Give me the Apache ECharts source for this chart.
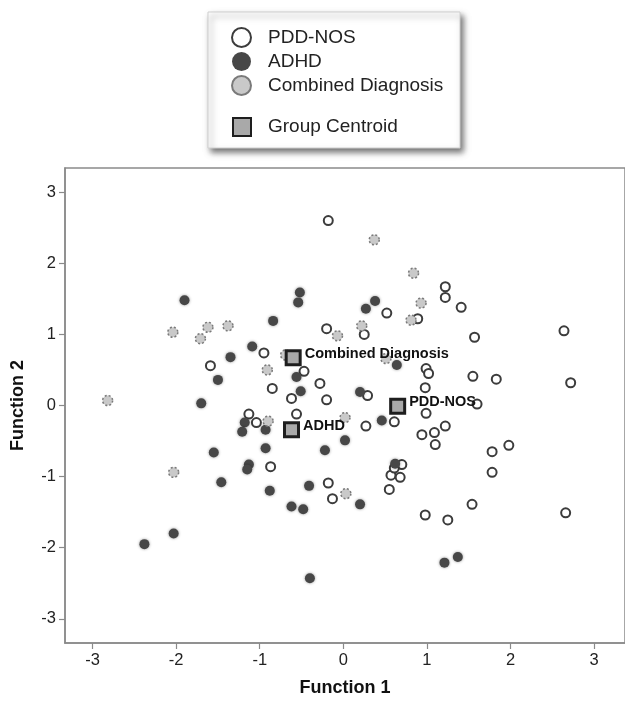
<!DOCTYPE html>
<html>
<head>
<meta charset="utf-8">
<script src="https://cdn.jsdelivr.net/npm/echarts@6/dist/echarts.min.js"></script>
<style>html,body{margin:0;padding:0;background:#fff;}#c{width:625px;height:708px;}</style>
</head>
<body>
<div id="c"></div>
<script>
var tickValues = [-3, -2, -1, 0, 1, 2, 3];
var seriesNames = ['PDD-NOS', 'ADHD', 'Combined Diagnosis', 'Group Centroid'];

var pddNos = [
  [-0.18, 2.60], [-0.20, 1.08], [-0.95, 0.74], [-1.59, 0.56], [-0.47, 0.48],
  [-0.28, 0.31], [-0.85, 0.24], [-0.62, 0.10], [-0.20, 0.08], [-0.56, -0.12],
  [-1.13, -0.12], [1.22, 1.67], [1.22, 1.52], [0.52, 1.30], [1.41, 1.38],
  [0.89, 1.22], [0.25, 1.00], [1.57, 0.96], [2.64, 1.05], [0.99, 0.52],
  [1.02, 0.45], [1.55, 0.41], [1.83, 0.37], [2.72, 0.32], [0.98, 0.25],
  [0.29, 0.14], [1.60, 0.02], [0.99, -0.11], [0.27, -0.29], [0.61, -0.23],
  [1.22, -0.29], [0.94, -0.41], [1.09, -0.38], [1.10, -0.55], [1.98, -0.56],
  [1.78, -0.65], [0.70, -0.83], [0.57, -0.98], [0.68, -1.01], [0.61, -0.88],
  [1.78, -0.94], [0.55, -1.18], [-0.18, -1.09], [-0.13, -1.31], [1.54, -1.39],
  [0.98, -1.54], [1.25, -1.61], [2.66, -1.51], [-1.04, -0.24], [-0.87, -0.86]
];

var adhd = [
  [-1.90, 1.48], [-0.52, 1.59], [-0.54, 1.45], [-0.84, 1.19], [-1.09, 0.83],
  [-1.35, 0.68], [-0.56, 0.40], [-1.50, 0.36], [-0.51, 0.20], [-1.70, 0.03],
  [0.38, 1.47], [0.27, 1.36], [0.64, 0.57], [0.20, 0.19], [0.46, -0.21],
  [0.02, -0.49], [-0.22, -0.63], [0.62, -0.82], [0.20, -1.39], [1.37, -2.13],
  [1.21, -2.21], [-1.18, -0.24], [-1.21, -0.37], [-0.93, -0.34], [-1.55, -0.66],
  [-0.93, -0.60], [-1.13, -0.83], [-1.15, -0.90], [-1.46, -1.08], [-0.88, -1.20],
  [-0.41, -1.13], [-0.62, -1.42], [-0.48, -1.46], [-2.03, -1.80], [-2.38, -1.95],
  [-0.40, -2.43], [-0.62, -0.33]
];

var combined = [
  [-0.69, 0.71], [-2.04, 1.03], [-1.62, 1.10], [-1.38, 1.12], [-1.71, 0.94],
  [-0.07, 0.98], [-0.91, 0.50], [-2.82, 0.07], [0.37, 2.33], [0.84, 1.86],
  [0.93, 1.44], [0.81, 1.20], [0.22, 1.12], [0.51, 0.66], [0.02, -0.17],
  [-0.90, -0.22], [0.03, -1.24], [-2.03, -0.94]
];

var centroidNames = ['Combined Diagnosis', 'PDD-NOS', 'ADHD'];
var centroidX = [-0.60, 0.65, -0.62];
var centroidY = [0.67, -0.01, -0.34];

var FONT = "'Liberation Sans', Arial, Helvetica, sans-serif";
var chart = echarts.init(document.getElementById('c'));

var centroidData = centroidNames.map(function (n, i) {
  return { name: n, value: [centroidX[i], centroidY[i]] };
});

chart.setOption({
  backgroundColor: '#fff',
  animation: false,
  graphic: [{
    type: 'rect', z: 0, zlevel: 0,
    shape: { x: 208, y: 12, width: 252, height: 136 },
    style: { fill: '#fff', stroke: '#cfcfcf', lineWidth: 1,
      shadowBlur: 6, shadowOffsetX: 3, shadowOffsetY: 4, shadowColor: 'rgba(0,0,0,0.55)' }
  }],
  legend: [{
    data: seriesNames.slice(0, 3),
    orient: 'vertical', left: 231, top: 27,
    itemWidth: 19, itemHeight: 19, itemGap: 4,
    padding: 0, z: 10,
    textStyle: { fontFamily: FONT, fontSize: 19, color: '#222', padding: [0, 0, 0, 12] }
  }, {
    data: [seriesNames[3]],
    orient: 'vertical', left: 232, top: 117,
    itemWidth: 18, itemHeight: 18,
    padding: 0, z: 10,
    textStyle: { fontFamily: FONT, fontSize: 19, color: '#222', padding: [0, 0, 0, 12] }
  }],
  grid: { left: 65, right: -10, top: 168, bottom: 65, show: true,
    borderColor: '#8a8a8a', borderWidth: 1.5, backgroundColor: 'transparent' },
  xAxis: {
    type: 'value', min: -3.33, max: 3.37,
    name: 'Function 1', nameLocation: 'middle', nameGap: 36,
    nameTextStyle: { fontFamily: FONT, fontSize: 18, fontWeight: 'bold', color: '#111' },
    axisLine: { show: true, onZero: false, lineStyle: { color: '#8a8a8a', width: 1.5 } },
    axisTick: { show: true, length: 6, lineStyle: { color: '#8a8a8a', width: 1.2 }, customValues: tickValues },
    axisLabel: { fontFamily: FONT, fontSize: 16.5, color: '#222', margin: 9, customValues: tickValues },
    splitLine: { show: false }
  },
  yAxis: {
    type: 'value', min: -3.34, max: 3.34,
    name: 'Function 2', nameLocation: 'middle', nameGap: 38,
    nameTextStyle: { fontFamily: FONT, fontSize: 18, fontWeight: 'bold', color: '#111' },
    axisLine: { show: true, onZero: false, lineStyle: { color: '#8a8a8a', width: 1.5 } },
    axisTick: { show: true, length: 6, lineStyle: { color: '#8a8a8a', width: 1.2 }, customValues: tickValues },
    axisLabel: { fontFamily: FONT, fontSize: 16.5, color: '#222', margin: 9, customValues: tickValues },
    splitLine: { show: false }
  },
  series: [{
    name: seriesNames[0], type: 'scatter', data: pddNos,
    symbol: 'circle', symbolSize: 9, z: 2,
    itemStyle: { color: '#fff', borderColor: '#3c3c3c', borderWidth: 2, opacity: 1 }
  }, {
    name: seriesNames[1], type: 'scatter', data: adhd,
    symbol: 'circle', symbolSize: 10, z: 3,
    itemStyle: { color: '#474747', shadowBlur: 3, shadowColor: 'rgba(0,0,0,0.4)', opacity: 1 }
  }, {
    name: seriesNames[2], type: 'scatter', data: combined,
    symbol: 'circle', symbolSize: 10, z: 4,
    itemStyle: { color: '#c9c9c9', borderColor: '#7a7a7a', borderWidth: 1.5, borderType: [2, 2], opacity: 1 }
  }, {
    name: seriesNames[3], type: 'scatter', data: centroidData,
    symbol: 'rect', symbolSize: 14, z: 6,
    itemStyle: { color: '#a9a9a9', borderColor: '#1e1e1e', borderWidth: 3, opacity: 1 },
    label: { show: true, position: 'right', distance: 3, offset: [0, -4],
      formatter: '{b}', fontFamily: FONT, fontSize: 14.5, fontWeight: 'bold', color: '#111' }
  }]
});
</script>
</body>
</html>
